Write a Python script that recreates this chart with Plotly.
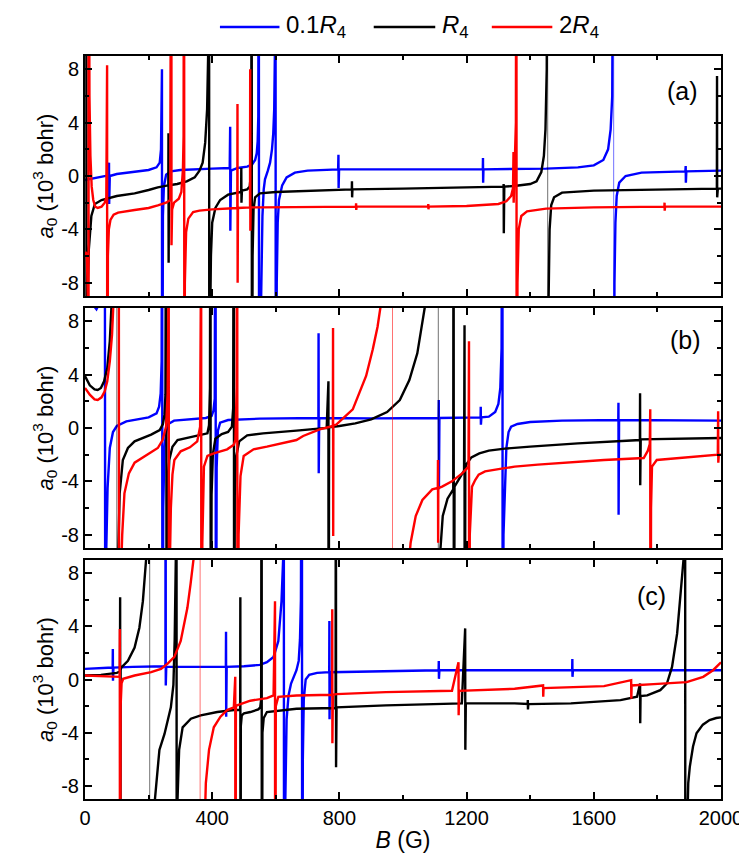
import plotly.graph_objects as go

# ---------------- data: (B in G, a0 in 10^3 bohr) ----------------
panel_a_blue = [(0,-0.3),(30,-0.15),(60,0.0),(74,0.05),(75.5,1.0),(76,-2.1),(78,0.0),(100,0.15),(150,0.3),(200,0.45),(225,0.65),(235,1.0),(239,2.0),(241,4.5),(242,8.0),(242.5,-30),(245,-3.0),(248,-0.8),(255,0.1),(270,0.35),(300,0.45),(400,0.55),(455,0.6),(456.5,3.7),(457,-4.1),(459,0.4),(480,0.6),(510,0.7),(525,0.85),(535,1.2),(540,1.7),(543,2.6),(545,4.5),(546.5,30),(547.5,-30),(549,-15),(554,-9),(558,-3),(562,-1),(566,-0.25),(575,0.4),(582,1.0),(588,2.0),(592,3.2),(595,5),(597,9),(599,30),(600,-30),(603,-8),(606,-3.5),(610,-1.8),(620,-0.7),(634,-0.1),(660,0.25),(700,0.4),(796,0.5),(797,1.6),(797.5,-0.9),(799,0.5),(1000,0.5),(1251,0.5),(1251.5,1.35),(1252,-0.5),(1253,0.5),(1450,0.55),(1550,0.65),(1600,0.8),(1630,1.2),(1645,2.0),(1653,3.5),(1658,6),(1661,12),(1662,30),(1663,-30),(1665,-8),(1668,-3.5),(1672,-1.5),(1680,-0.5),(1700,0.0),(1750,0.25),(1888,0.35),(1889,0.75),(1889.5,-0.5),(1891,0.35),(2000,0.4)]
panel_a_black = [(0,15),(4,30),(5,-30),(8,-9),(12,-5.5),(20,-3.0),(31,-2.1),(52,-1.8),(100,-1.5),(156,-1.3),(200,-1.05),(229,-0.85),(262,-0.7),(262.5,3.2),(263,-6.5),(264,-0.7),(290,-0.6),(320,-0.4),(345,-0.1),(360,0.4),(370,1.0),(378,2.5),(384,5),(388,10),(390,30),(391,-30),(393,-12),(396,-6),(400,-3.5),(410,-2.4),(425,-1.8),(450,-1.4),(475,-1.3),(491,-1.2),(491.5,0.6),(492,-2.0),(493.5,-1.1),(510,-1.0),(518,-0.8),(521,0.0),(523,2.0),(524,30),(525,-30),(527,-6),(530,-2.5),(535,-1.6),(550,-1.3),(600,-1.2),(700,-1.1),(839,-1.0),(839.5,-0.4),(840,-1.6),(841,-1.0),(1000,-0.95),(1200,-0.85),(1316,-0.8),(1316.5,-0.6),(1317,-4.3),(1318.5,-0.8),(1350,-0.75),(1400,-0.6),(1420,-0.4),(1435,0.3),(1443,1.5),(1448,3.5),(1452,8),(1454,30),(1456,-30),(1458,-9),(1461,-4),(1466,-2.2),(1475,-1.6),(1500,-1.25),(1600,-1.1),(1800,-1.0),(1987,-0.95),(1987.5,7.5),(1988,-1.6),(1990,-0.95),(2000,-0.95)]
panel_a_red = [(0,-6.0),(2,-5.7),(4,-5.8),(6,-6.3),(9,-9),(11,-30),(11.5,30),(14,6),(17,1.5),(21,-0.8),(26,-1.8),(32,-2.3),(40,-2.4),(52,-2.3),(62,-2.0),(67,-1.6),(69.5,8.3),(70,-30),(72,-6),(75,-4),(80,-3.3),(90,-2.9),(104,-2.75),(156,-2.55),(200,-2.4),(229,-2.2),(255,-2.0),(268,-1.8),(271.5,30),(272,-5.2),(274,-2.5),(280,-2.0),(295,-1.7),(303,-1.2),(308,0.5),(310,3),(311.5,30),(312.5,-30),(314,-8),(318,-4.2),(325,-3.2),(340,-2.7),(360,-2.6),(400,-2.5),(479,-2.4),(479.5,5.4),(480,-8.0),(481,-2.4),(519,-2.35),(519.5,8.0),(520,-4.1),(521,-2.35),(560,-2.35),(700,-2.3),(852,-2.3),(852.5,-2.05),(853,-2.55),(854,-2.3),(1079,-2.3),(1079.5,-2.1),(1080,-2.5),(1081,-2.3),(1200,-2.25),(1300,-2.1),(1325,-1.9),(1340,-1.5),(1346,-0.9),(1347.5,1.8),(1348,-2.0),(1350,-0.5),(1353,1.0),(1355,4.0),(1356.5,30),(1357.5,-30),(1360,-8),(1364,-4),(1372,-3.0),(1390,-2.65),(1450,-2.45),(1600,-2.35),(1822,-2.3),(1822.5,-2.0),(1823,-2.6),(1824,-2.3),(2000,-2.3)]

panel_b_blue = [(0,10.5),(20,9.4),(36,8.9),(48,9.5),(56,12),(62,30),(64,-30),(67,-9),(71,-4.5),(78,-1.5),(88,-0.3),(100,0.15),(130,0.5),(160,0.65),(200,0.8),(225,1.1),(233,1.6),(238,2.6),(241,5),(242.5,30),(243.5,-30),(246,-6),(250,-1.5),(255,-0.3),(262,0.3),(280,0.55),(330,0.65),(380,0.75),(398,0.9),(404,1.3),(408,2.2),(410.5,30),(411.5,-30),(414,-3),(418,-0.2),(425,0.4),(450,0.6),(550,0.7),(734,0.75),(734.5,7.1),(735,-3.4),(736.5,0.75),(900,0.72),(1112,0.75),(1112.5,2.1),(1113,-4.6),(1114.5,0.75),(1244,0.8),(1244.5,1.6),(1245,0.25),(1246.5,0.8),(1270,0.85),(1290,1.2),(1300,1.8),(1306,3),(1310,6),(1312.5,30),(1313.5,-30),(1316,-8),(1320,-4.4),(1325,-1.5),(1332,-0.3),(1340,0.1),(1360,0.3),(1400,0.45),(1500,0.55),(1677,0.6),(1677.5,1.9),(1678,-6.5),(1679.5,0.6),(2000,0.55)]
panel_b_black = [(0,3.9),(15,3.2),(30,2.9),(40,2.85),(50,3.0),(60,3.5),(70,4.5),(78,6.5),(84,9.5),(92,14),(99,30),(101,-30),(104,-10),(109,-4.9),(119,-2.4),(135,-1.5),(156,-1.0),(208,-0.5),(235,-0.15),(245,0.3),(250,1.0),(253,2.5),(255.5,30),(256.5,-30),(259,-6),(265,-2.4),(275,-1.4),(291,-0.9),(343,-0.6),(385,-0.4),(390,0.2),(393,3),(394.5,30),(395.5,-30),(398,-5),(402,-2),(410,-0.8),(430,-0.45),(450,-0.3),(462,0.1),(466,1.5),(468,30),(469,-30),(471,-5),(475,-2.2),(485,-1.0),(510,-0.55),(560,-0.4),(665,-0.2),(760,0.0),(765.5,3.5),(766,-30),(767.5,0.05),(800,0.15),(850,0.35),(900,0.65),(950,1.2),(990,2.1),(1020,3.6),(1045,5.6),(1060,7.6),(1075,10),(1090,15),(1110,30),(1112,-30),(1118,-9),(1125,-6.6),(1140,-5.3),(1158,-4.6),(1159,30),(1160,-30),(1162,-4.4),(1175,-3.9),(1188,-3.4),(1192,-3.2),(1193.5,7.7),(1194,-30),(1196,-3.0),(1200,-2.7),(1215,-2.2),(1240,-1.9),(1270,-1.7),(1320,-1.55),(1400,-1.4),(1550,-1.15),(1745,-0.9),(1745.5,2.6),(1746,-4.3),(1747.5,-0.85),(1850,-0.8),(2000,-0.75)]
panel_b_red = [(0,3.0),(15,2.5),(30,2.15),(40,2.1),(52,2.3),(62,2.75),(70,3.5),(78,5.0),(85,7.0),(92,9.5),(100,15),(106,30),(107.5,-30),(112,-12),(117,-8),(124,-4.9),(138,-3.4),(156,-2.6),(197,-2.0),(218,-1.7),(229,-1.5),(244,-0.9),(255,0.1),(260,2.6),(262,8),(263,30),(264,-30),(267,-10),(270,-6),(275,-3.5),(281,-2.4),(301,-1.75),(330,-1.45),(353,-1.0),(362,0.1),(364,9),(365,30),(366,-30),(369,-8.6),(374,-2.9),(385,-2.1),(405,-1.9),(447,-1.6),(468,-1.25),(473,-0.9),(477,3),(478.5,30),(479.5,-30),(483,-8),(489,-3.6),(499,-2.1),(530,-1.6),(572,-1.4),(665,-0.9),(686,-0.6),(738,-0.1),(769,0.1),(779.5,0.15),(780,7.5),(780.5,-8.1),(781,0.2),(790,0.25),(842,1.4),(884,3.9),(905,5.9),(920,7.6),(930,9.2),(950,15),(966,30),(968,-30),(1000,-15),(1024,-8.6),(1040,-6.6),(1061,-5.4),(1092,-4.6),(1109.5,-4.5),(1110,-2.4),(1110.5,-8.6),(1111,-4.5),(1123,-4.4),(1154,-4.0),(1186,-3.4),(1206,-2.9),(1207.5,6.5),(1208,-30),(1210,-8),(1217,-4.4),(1227,-3.9),(1238,-3.5),(1258,-3.25),(1310,-3.05),(1351,-2.9),(1424,-2.75),(1632,-2.4),(1757,-2.25),(1770,-1.7),(1776,-1.2),(1777.5,1.4),(1778,-30),(1780,-6),(1783,-2.9),(1798,-2.4),(1990,-2.0),(1991,1.25),(1991.5,-2.6),(1993,-2.0),(2000,-2.0)]

panel_c_blue = [(0,0.8),(50,0.85),(87,0.9),(87.5,2.3),(88,-0.1),(89.5,0.9),(150,0.95),(200,0.95),(252,1.0),(253,1.3),(253.5,30),(254,-0.45),(255.5,0.95),(350,0.95),(443,0.95),(443.5,3.6),(444,-2.8),(445.5,0.95),(500,1.0),(550,1.1),(572,1.3),(593,1.7),(608,2.9),(618,5.9),(623,9),(625,30),(626,-30),(630,-9),(634,-3),(640,-1.2),(648,-0.3),(657,0.3),(665,0.7),(672,1.4),(676,3),(679,6),(681,15),(682,30),(683,-30),(685,-6),(688,-1.5),(694,0.0),(705,0.35),(730,0.5),(768,0.55),(768.5,4.4),(769,-3.0),(770.5,0.55),(900,0.6),(1112,0.7),(1112.5,1.4),(1113,0.05),(1114.5,0.7),(1532,0.7),(1532.5,1.55),(1533,0.2),(1534.5,0.7),(2000,0.7)]
panel_c_black = [(0,0.3),(50,0.35),(100,0.5),(110,0.6),(110.5,6.2),(111,-30),(112,0.7),(114,0.9),(135,1.4),(156,2.4),(171,3.9),(182,5.9),(192,9),(198,15),(203,30),(204,-30),(212,-15),(220,-9),(234,-5.3),(250,-4.1),(260,-3.1),(270,-2.1),(278,-0.4),(282,3.0),(285.5,9),(287.5,30),(288.5,-30),(291,-9),(296,-5.3),(307,-3.6),(333,-2.95),(364,-2.7),(416,-2.45),(468,-2.3),(488,-2.3),(488.5,6.2),(489,-30),(490,-3.5),(493,-2.7),(500,-2.55),(520,-2.45),(545,-2.25),(551,-2.1),(554,-1.5),(555.5,30),(556,-30),(558,-4),(562,-2.9),(572,-2.45),(624,-2.3),(665,-2.2),(788,-2.15),(789,30),(789.5,-6.6),(791,-2.1),(946,-1.95),(1185,-1.8),(1195.5,3.85),(1196,-5.3),(1197.5,-1.8),(1351,-1.8),(1392,-1.85),(1392.5,-1.55),(1393,-2.25),(1394,-1.85),(1528,-1.8),(1684,-1.55),(1736,-1.3),(1745.5,-0.3),(1746,-3.3),(1747,-1.25),(1768,-1.2),(1809,-0.8),(1830,-0.3),(1846,0.95),(1862,3.45),(1877,7.2),(1882,9),(1886,20),(1887,30),(1888,-30),(1893,-12),(1897,-7.8),(1902,-6.55),(1912,-5.05),(1923,-4.05),(1943,-3.4),(1964,-3.05),(1985,-2.9),(2000,-2.85)]
panel_c_red = [(0,0.3),(50,0.25),(100,0.2),(109,0.2),(109.5,3.8),(110,-30),(112,-2),(115,-0.3),(120,0.05),(156,0.3),(208,0.55),(239,0.8),(260,1.2),(281,1.7),(301,2.9),(322,5.4),(332,7.2),(341,9),(352,15),(361,30),(363,-30),(372,-15),(380,-7.8),(390,-5.3),(405,-3.6),(426,-2.8),(447,-2.3),(468,-2.1),(472.5,0.2),(473,-30),(474.5,-2.0),(478,-1.95),(520,-1.6),(572,-1.4),(593,-1.2),(597.5,5.9),(598,-30),(600,-2.0),(608,-1.3),(665,-1.2),(777,-1.15),(777.5,5.3),(778,-4.8),(779.5,-1.15),(790,-1.1),(946,-0.95),(1154,-0.85),(1174.5,1.3),(1175,-2.7),(1176.5,-0.85),(1351,-0.7),(1440.5,-0.45),(1441,-1.3),(1442,-0.65),(1632,-0.5),(1717.5,-0.05),(1718,-1.45),(1719,-0.45),(1788,-0.35),(1840,-0.3),(1892,-0.2),(1944,0.2),(1975,0.7),(2000,1.3)]

# pole positions (G) where the curve's jump appears as a thin line in the figure
thin_poles_a_blue = [1662.5]
thin_poles_a_black = [1455]
thin_poles_a_red = []
thin_poles_b_blue = []
thin_poles_b_black = [100, 1111]
thin_poles_b_red = [967]
thin_poles_c_blue = []
thin_poles_c_black = [203.5]
thin_poles_c_red = [362]

series_names = ["0.1<i>R</i><sub>4</sub>", "<i>R</i><sub>4</sub>", "2<i>R</i><sub>4</sub>"]
series_colors = ["#0000ff", "#000000", "#ff0000"]
panel_labels = ["(a)", "(b)", "(c)"]
panel_label_B = [1880, 1889, 1783]
panel_label_a0 = [6.35, 6.6, 6.3]
x_ticks = [0, 400, 800, 1200, 1600, 2000]
y_ticks = [-8, -4, 0, 4, 8]
y_ticktext = ["-8", "-4", "0", "4", "8"]

# ---------------- figure ----------------
FONT = "Liberation Sans, Arial, sans-serif"
W, H = 747, 857
ML, MR, MT, MB = 77, 29, 48, 66
ph = H - MT - MB
pw = W - ML - MR
panel_px = [(48, 288), (300, 540), (552, 791)]
domains = [[1 - (b - MT) / ph, 1 - (t - MT) / ph] for t, b in panel_px]
domains[0][1] = 1.0
domains[2][0] = 0.0

panels = [
    (panel_a_blue, panel_a_black, panel_a_red),
    (panel_b_blue, panel_b_black, panel_b_red),
    (panel_c_blue, panel_c_black, panel_c_red),
]
thin = [
    (thin_poles_a_blue, thin_poles_a_black, thin_poles_a_red),
    (thin_poles_b_blue, thin_poles_b_black, thin_poles_b_red),
    (thin_poles_c_blue, thin_poles_c_black, thin_poles_c_red),
]


def split_at(points, poles):
    xs, ys = [], []
    for k, (b, a) in enumerate(points):
        if k > 0:
            pb = points[k - 1][0]
            if any(pb < p < b for p in poles):
                xs.append(None)
                ys.append(None)
        xs.append(b)
        ys.append(a)
    return xs, ys


fig = go.Figure()
for i, group in enumerate(panels):
    xa = "x" if i == 0 else f"x{i+1}"
    ya = "y" if i == 0 else f"y{i+1}"
    for j, s in enumerate(group):
        poles = thin[i][j]
        B, A = split_at(s, poles)
        for p in poles:
            fig.add_trace(go.Scatter(
                x=[p, p], y=[-9.5, 9.5], mode="lines", showlegend=False,
                line=dict(color=series_colors[j], width=1), opacity=0.55,
                xaxis=xa, yaxis=ya, hoverinfo="skip"))
        fig.add_trace(go.Scatter(
            x=B, y=A, mode="lines", name=series_names[j],
            line=dict(color=series_colors[j], width=2.4),
            showlegend=False, connectgaps=False,
            xaxis=xa, yaxis=ya, hoverinfo="skip"))

axis_common = dict(showline=True, linewidth=2, linecolor="black", mirror="ticks",
                   ticks="inside", ticklen=7, tickwidth=1.5, tickcolor="black",
                   showgrid=False, zeroline=False,
                   tickfont=dict(family=FONT, size=20, color="black"))
layout = dict(width=W, height=H, margin=dict(l=ML, r=MR, t=MT, b=MB),
              paper_bgcolor="white", plot_bgcolor="white",
              font=dict(family=FONT, size=20, color="black"),
              showlegend=False)
annotations = []
shapes = []
for i in range(3):
    xk = "xaxis" if i == 0 else f"xaxis{i+1}"
    yk = "yaxis" if i == 0 else f"yaxis{i+1}"
    ya = "y" if i == 0 else f"y{i+1}"
    xa = "x" if i == 0 else f"x{i+1}"
    xd = dict(axis_common, domain=[0, 1], anchor=ya, range=[0, 2000],
              tickvals=x_ticks, showticklabels=(i == 2),
              minor=dict(ticks="inside", ticklen=4, tickwidth=1.5, tickcolor="black", dtick=200, tick0=0))
    if i == 2:
        xd["title"] = dict(text="<i>B</i> (G)", font=dict(family=FONT, size=23), standoff=4)
    layout[xk] = xd
    layout[yk] = dict(axis_common, domain=domains[i], anchor=xa, range=[-9, 9],
                      tickvals=y_ticks, ticktext=y_ticktext,
                      minor=dict(ticks="inside", ticklen=4, tickwidth=1.5, tickcolor="black", dtick=2, tick0=0),
                      title=dict(text="<i>a</i><sub>0</sub> (10<sup>3</sup> bohr)", font=dict(family=FONT, size=22), standoff=2))
    annotations.append(dict(x=panel_label_B[i], y=panel_label_a0[i], xref=xa, yref=ya,
                            text=panel_labels[i], showarrow=False,
                            font=dict(family=FONT, size=25, color="black")))

# custom legend (longer line samples as in the figure)
legend_line_px = [(213, 273), (368, 430), (487, 548)]
legend_y = 1 + (48 - 19) / ph
for j, (x0, x1) in enumerate(legend_line_px):
    shapes.append(dict(type="line", xref="paper", yref="paper",
                       x0=(x0 - ML) / pw, x1=(x1 - ML) / pw, y0=legend_y, y1=legend_y,
                       line=dict(color=series_colors[j], width=2.4)))
    annotations.append(dict(x=(x1 + 5 - ML) / pw, y=legend_y, xref="paper", yref="paper",
                            xanchor="left", yanchor="middle", showarrow=False,
                            text=series_names[j], font=dict(family=FONT, size=24, color="black")))
layout["annotations"] = annotations
layout["shapes"] = shapes
fig.update_layout(**layout)
fig.write_html("out.html")
